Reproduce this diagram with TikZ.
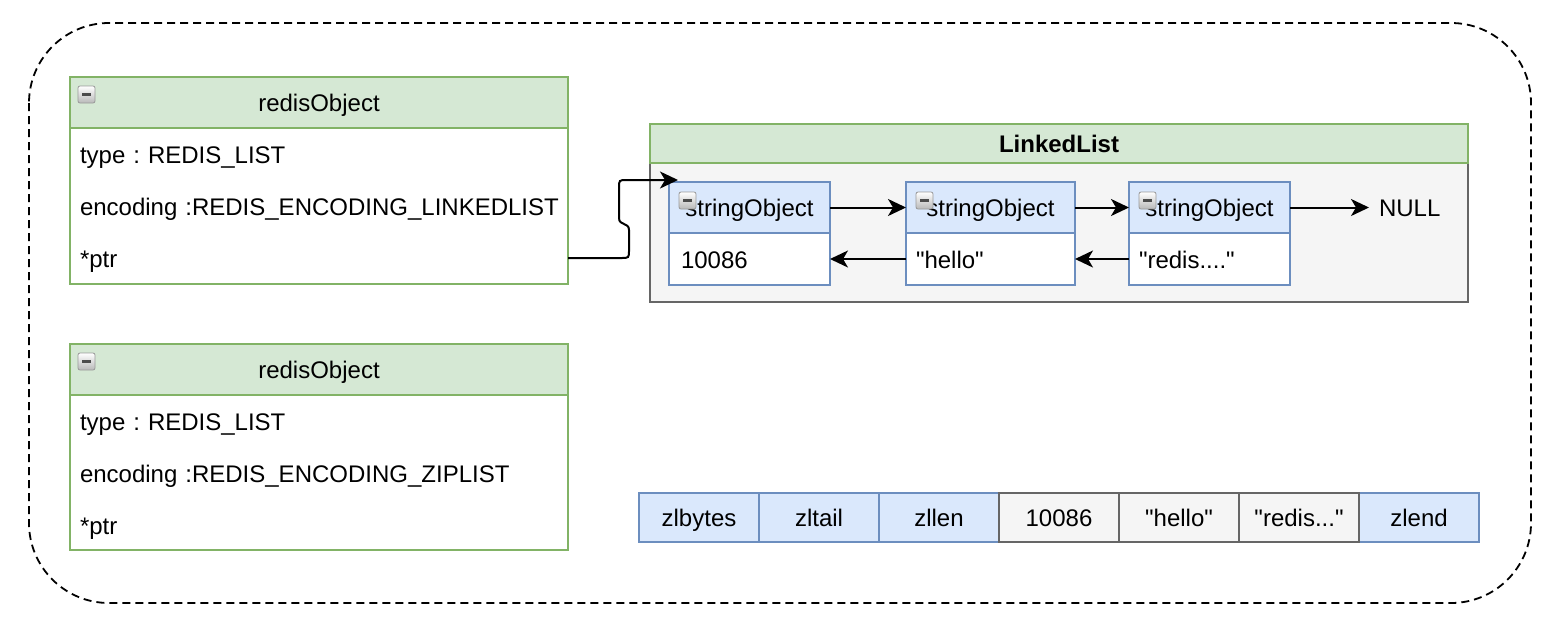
\documentclass[tikz,border=0pt]{standalone}
\usepackage{fontspec}
\setmainfont{Liberation Sans}
\usetikzlibrary{arrows.meta}
\definecolor{gfill}{HTML}{D5E8D4}
\definecolor{gstroke}{HTML}{82B366}
\definecolor{bfill}{HTML}{DAE8FC}
\definecolor{bstroke}{HTML}{6C8EBF}
\definecolor{kfill}{HTML}{F5F5F5}
\definecolor{kstroke}{HTML}{666666}
\tikzset{
  box/.style={line width=2pt, inner sep=0pt, outer sep=0pt, anchor=north west, text height=18pt, text depth=0pt},
  greenbox/.style={box, draw=gstroke, fill=gfill},
  bluebox/.style={box, draw=bstroke, fill=bfill},
  greybox/.style={box, draw=kstroke, fill=kfill},
  whitegbox/.style={box, draw=gstroke, fill=white},
  whitebbox/.style={box, draw=bstroke, fill=white},
  rowtext/.style={anchor=north west, inner xsep=10pt, inner ysep=0pt, outer sep=0pt, align=left, minimum height=52pt, text height=18pt, text depth=0pt},
  conn/.style={line width=2pt, -{Stealth[length=18pt,width=17pt,inset=5pt]}},
  collapseicon/.pic={
    \draw[gray!80, line width=0.8pt, rounded corners=2pt, top color=white, bottom color=gray!55] (0,0) rectangle (17,17);
    \draw[line width=2.6pt, black!70] (4,8.5) -- (13,8.5);
  }
}
\newcommand\qq{\textquotedbl}
\begin{document}
\frenchspacing
\begin{tikzpicture}[x=1pt,y=-1pt, font=\fontsize{24}{28}\selectfont]
\useasboundingbox (0,0) rectangle (1562,630);
% outer dashed container
\draw[line width=1.8pt, dash pattern=on 8pt off 5pt, rounded corners=80pt] (29,23) rectangle (1531,603);

% redisObject 1
\node[whitegbox, minimum width=498pt, minimum height=156pt] (r1body) at (70,128) {};
\node[greenbox, minimum width=498pt, minimum height=51pt] (r1head) at (70,77) {redisObject};
\pic at (78,86) {collapseicon};
\node[rowtext, text width=478pt] (r1type) at (70,128) {\mbox{type : REDIS\_LIST}};
\node[rowtext, text width=478pt] (r1enc) at (70,180) {\mbox{encoding :REDIS\_ENCODING\_LINKEDLIST}};
\node[rowtext, text width=478pt] (r1ptr) at (70,232) {\mbox{*ptr}};

% redisObject 2
\node[whitegbox, minimum width=498pt, minimum height=155pt] (r2body) at (70,395) {};
\node[greenbox, minimum width=498pt, minimum height=51pt] (r2head) at (70,344) {redisObject};
\pic at (78,353) {collapseicon};
\node[rowtext, text width=478pt] (r2type) at (70,395) {\mbox{type : REDIS\_LIST}};
\node[rowtext, text width=478pt] (r2enc) at (70,447) {\mbox{encoding :REDIS\_ENCODING\_ZIPLIST}};
\node[rowtext, text width=478pt] (r2ptr) at (70,499) {\mbox{*ptr}};

% LinkedList container
\node[greybox, minimum width=818pt, minimum height=139pt] (llbody) at (650,163) {};
\node[greenbox, minimum width=818pt, minimum height=39pt, font=\fontsize{24}{28}\selectfont\bfseries] (llhead) at (650,124) {LinkedList};

% stringObjects
\node[whitebbox, minimum width=161pt, minimum height=52pt, align=left, text width=149pt, inner xsep=6pt] (s1b) at (669,233) {\hspace*{6pt}10086};
\node[bluebox, minimum width=161pt, minimum height=51pt] (s1h) at (669,182) {stringObject};
\pic at (679,192) {collapseicon};

\node[whitebbox, minimum width=169pt, minimum height=52pt, align=left, text width=157pt, inner xsep=6pt] (s2b) at (906,233) {\hspace*{4pt}\qq hello\qq};
\node[bluebox, minimum width=169pt, minimum height=51pt] (s2h) at (906,182) {stringObject};
\pic at (916,192) {collapseicon};

\node[whitebbox, minimum width=161pt, minimum height=52pt, align=left, text width=149pt, inner xsep=6pt] (s3b) at (1129,233) {\hspace*{4pt}\qq redis....\qq};
\node[bluebox, minimum width=161pt, minimum height=51pt] (s3h) at (1129,182) {stringObject};
\pic at (1139,192) {collapseicon};

\node[anchor=west, inner xsep=10pt, inner ysep=0pt, outer sep=0pt, text height=18pt, text depth=0pt] (null) at (1369,207.5) {NULL};

\draw[conn] (s1h.east) -- (s2h.west);
\draw[conn] (s2h.east) -- (s3h.west);
\draw[conn] (s3h.east) -- (null.west);
\draw[conn] (s2b.west) -- (s1b.east);
\draw[conn] (s3b.west) -- (s2b.east);

% pointer connector
\coordinate (cin) at (678,180);
\draw[conn] (r1ptr.east) -- (621,258) .. controls (629,258) .. (629,250) -- (629,230)
  .. controls (629,222) and (619,226) .. (619,218) -- (619,188)
  .. controls (619,180) .. (627,180) -- (cin);

% ziplist
\node[bluebox, minimum width=120pt, minimum height=49pt] (z1) at (639,493) {zlbytes};
\node[bluebox, minimum width=120pt, minimum height=49pt] (z2) at (z1.north east) {zltail};
\node[bluebox, minimum width=120pt, minimum height=49pt] (z3) at (z2.north east) {zllen};
\node[greybox, minimum width=120pt, minimum height=49pt] (z4) at (z3.north east) {10086};
\node[greybox, minimum width=120pt, minimum height=49pt] (z5) at (z4.north east) {\qq hello\qq};
\node[greybox, minimum width=120pt, minimum height=49pt] (z6) at (z5.north east) {\qq redis...\qq};
\node[bluebox, minimum width=120pt, minimum height=49pt] (z7) at (z6.north east) {zlend};
\draw[line width=2pt, draw=kstroke] (z4.north west) rectangle (z6.south east);
\end{tikzpicture}
\end{document}
